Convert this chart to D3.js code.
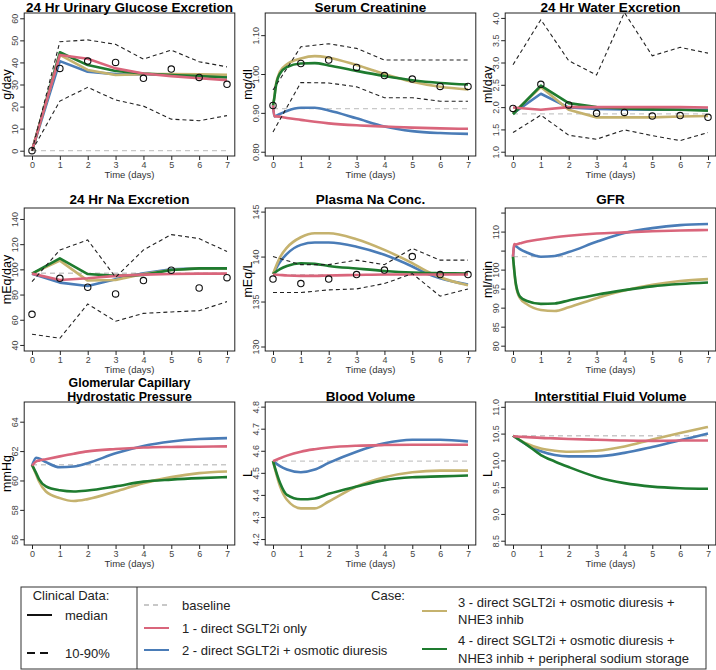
<!DOCTYPE html>
<html lang="en">
<head>
<meta charset="UTF-8">
<title>SGLT2i model cases vs clinical data</title>
<style>
  body { margin: 0; background: #fff; }
  svg text { font-family: "Liberation Sans", Arial, sans-serif; }
  .title { font-size: 13.5px; font-weight: bold; text-anchor: middle; }
  .title.two { font-size: 12.4px; }
  .tick text { font-size: 9px; fill: #444; }
  .ylab { font-size: 12.5px; text-anchor: middle; }
  .xlab { font-size: 9.5px; text-anchor: middle; fill: #333; }
  .leg { font-size: 13px; fill: #222; }
</style>
</head>
<body>
<svg width="716" height="670"></svg>
<script src="https://d3js.org/d3.v7.min.js"></script>
<script>
// ---- data ----
const days = [0, 1, 2, 3, 4, 5, 6, 7];
const caseNames = ["1 - direct SGLT2i only", "2 - direct SGLT2i + osmotic diuresis",
  "3 - direct SGLT2i + osmotic diuresis +", "4 - direct SGLT2i + osmotic diuresis +"];
const caseNames2 = ["", "", "NHE3 inhib", "NHE3 inhib + peripheral sodium storage"];
const caseColors = ["#d9657b", "#4a7cb7", "#c5b26e", "#1e7b2f"];

// 24 hr urinary glucose excretion (g/day), daily
const glucTicks = [0, 10, 20, 30, 40, 50, 60];
const glucMed = [0, 37.3, 40.6, 40.0, 32.8, 37.0, 33.2, 30.1];
const glucP10 = [0, 22.5, 28.7, 23.0, 20.2, 14.3, 13.6, 15.9];
const glucP90 = [0, 49.4, 50.2, 48.2, 41.5, 45.6, 40.3, 38.0];
const glucBase = 0;
const glucRed = [0, 43.4, 41.7, 37.3, 35.0, 33.8, 32.8, 32.0];
const glucBlue = [0, 40.6, 35.8, 34.7, 34.6, 34.4, 34.1, 33.8];
const glucGold = [0, 43.4, 36.6, 34.3, 34.7, 34.7, 34.6, 34.4];
const glucGreen = [0, 44.6, 38.8, 36.1, 35.0, 34.3, 33.8, 33.2];

// serum creatinine (mg/dl)
const creatTicks = [0.8, 0.9, 1.0, 1.1];
const creatMed = [0.919, 1.027, 1.036, 1.017, 0.996, 0.987, 0.968, 0.968];
const creatP10 = [0.851, 0.978, 0.977, 0.967, 0.939, 0.939, 0.930, 0.930];
const creatP90 = [0.959, 1.070, 1.078, 1.066, 1.036, 1.036, 1.036, 1.036];
const creatBase = 0.911;
const creatT = [0, 0.05, 0.1, 0.25, 0.5, 1, 1.5, 2, 3, 4, 5, 6, 7];
const creatRed = [0.919, 0.891, 0.891, 0.890, 0.887, 0.882, 0.877, 0.873, 0.868, 0.865, 0.862, 0.860, 0.859];
const creatBlue = [0.919, 0.891, 0.892, 0.897, 0.905, 0.913, 0.913, 0.906, 0.886, 0.865, 0.853, 0.848, 0.846];
const creatGold = [0.919, 0.940, 0.971, 1.006, 1.025, 1.040, 1.046, 1.042, 1.023, 1.000, 0.980, 0.967, 0.960];
const creatGreen = [0.919, 0.940, 0.967, 1.001, 1.018, 1.027, 1.028, 1.022, 1.008, 0.995, 0.984, 0.977, 0.973];

// 24 hr water excretion (ml/day), daily
const waterTicks = [1.0, 1.5, 2.0, 2.5, 3.0, 3.5, 4.0];
const waterMed = [1.97, 2.51, 2.05, 1.86, 1.88, 1.80, 1.81, 1.77];
const waterP10 = [1.43, 1.82, 1.37, 1.28, 1.49, 1.36, 1.25, 1.43];
const waterP90 = [2.95, 3.96, 3.04, 2.72, 4.12, 3.15, 3.34, 3.21];
const waterBase = 1.85;
const waterRed = [1.99, 1.94, 2.00, 2.00, 2.00, 2.00, 2.00, 1.99];
const waterBlue = [1.86, 2.30, 1.99, 1.96, 1.95, 1.94, 1.94, 1.94];
const waterGold = [1.86, 2.45, 1.94, 1.77, 1.77, 1.77, 1.79, 1.80];
const waterGreen = [1.84, 2.48, 2.09, 2.00, 1.97, 1.95, 1.94, 1.92];

// 24 hr Na excretion (mEq/day), daily
const naTicks = [40, 60, 80, 100, 120, 140];
const naMed = [64.3, 92.9, 85.8, 80.5, 91.1, 99.3, 85.2, 93.4];
const naP10 = [48.5, 45.3, 72.5, 58.8, 65.1, 66.2, 67.2, 74.4];
const naP90 = [90.3, 115.4, 123.3, 93.7, 115.4, 127.6, 124.4, 114.1];
const naBase = 96.9;
const naRed = [96.6, 91.6, 92.9, 94.8, 95.8, 96.3, 96.6, 96.6];
const naBlue = [96.6, 89.5, 86.8, 92.1, 96.9, 100.1, 100.8, 100.8];
const naGold = [96.6, 106.9, 91.1, 91.6, 96.3, 99.5, 100.8, 100.8];
const naGreen = [96.6, 108.8, 96.3, 94.8, 95.6, 99.5, 100.8, 100.8];

// plasma Na concentration (mEq/L)
const pnaTicks = [130, 135, 140, 145];
const pnaMed = [137.5, 137.0, 137.5, 138.0, 138.5, 140.0, 138.0, 138.0];
const pnaP10 = [136.0, 136.0, 136.3, 136.4, 137.0, 138.1, 135.6, 136.4];
const pnaP90 = [140.0, 139.1, 139.1, 139.6, 139.1, 140.9, 139.6, 139.6];
const pnaBase = 138.0;
const pnaT = [0, 0.25, 0.5, 1, 1.5, 2, 3, 4, 5, 5.5, 6, 7];
const pnaRed = [138.0, 137.95, 137.9, 137.85, 137.85, 137.9, 137.95, 138.0, 138.0, 138.0, 138.0, 138.0];
const pnaBlue = [138.05, 139.4, 140.3, 141.3, 141.56, 141.56, 141.1, 140.2, 138.9, 138.15, 137.6, 136.9];
const pnaGold = [138.05, 139.9, 141.0, 142.15, 142.6, 142.6, 141.93, 140.74, 139.26, 138.4, 137.7, 136.8];
const pnaGreen = [138.05, 138.6, 138.96, 139.26, 139.19, 138.96, 138.67, 138.4, 138.22, 138.17, 138.15, 138.11];

// GFR (ml/min)
const gfrTicks = [80, 85, 90, 95, 100, 105, 110, 115];
const gfrTickLabels = ["80", "85", "90", "95", "100", "", "110", ""];
const gfrBase = 103.4;
const gfrT = [0, 0.05, 0.1, 0.25, 0.5, 1, 1.5, 2, 3, 4, 5, 6, 7];
const gfrRed = [103.4, 106.7, 106.6, 106.9, 107.4, 108.0, 108.5, 108.9, 109.5, 109.8, 110.1, 110.3, 110.4];
const gfrBlue = [103.4, 106.5, 106.2, 105.4, 104.5, 103.4, 103.6, 104.6, 107.3, 109.6, 110.9, 111.7, 112.0];
const gfrGold = [103.4, 99.3, 96.0, 92.5, 90.9, 89.4, 89.1, 90.1, 92.5, 94.5, 96.0, 97.0, 97.5];
const gfrGreen = [103.4, 99.5, 96.4, 92.9, 91.75, 91.0, 91.1, 91.9, 93.4, 94.6, 95.6, 96.2, 96.6];

// glomerular capillary hydrostatic pressure (mmHg)
const gcpTicks = [56, 58, 60, 62, 64];
const gcpBase = 61.07;
const gcpT = [0, 0.15, 0.25, 0.5, 1, 1.5, 2, 3, 4, 5, 6, 7];
const gcpRed = [61.0, 61.3, 61.35, 61.45, 61.64, 61.82, 61.98, 62.14, 62.24, 62.28, 62.3, 62.32];
const gcpBlue = [61.0, 61.55, 61.5, 61.25, 60.9, 60.95, 61.18, 61.85, 62.35, 62.65, 62.82, 62.88];
const gcpGold = [61.07, 60.4, 59.95, 59.25, 58.8, 58.6, 58.73, 59.25, 59.82, 60.23, 60.5, 60.61];
const gcpGreen = [61.07, 60.5, 60.1, 59.6, 59.33, 59.25, 59.32, 59.6, 59.92, 60.06, 60.16, 60.23];

// blood volume (L)
const bvTicks = [4.2, 4.3, 4.4, 4.5, 4.6, 4.7, 4.8];
const bvBase = 4.553;
const bvT = [0, 0.25, 0.5, 1, 1.5, 2, 3, 4, 5, 6, 7];
const bvRed = [4.553, 4.566, 4.578, 4.596, 4.607, 4.615, 4.623, 4.626, 4.627, 4.627, 4.627];
const bvBlue = [4.553, 4.530, 4.515, 4.503, 4.515, 4.545, 4.596, 4.634, 4.650, 4.650, 4.642];
const bvGold = [4.553, 4.440, 4.378, 4.339, 4.339, 4.370, 4.438, 4.480, 4.503, 4.510, 4.510];
const bvGreen = [4.553, 4.455, 4.400, 4.380, 4.384, 4.405, 4.438, 4.467, 4.480, 4.484, 4.488];

// interstitial fluid volume (L)
const ifvTicks = [8.5, 9.0, 9.5, 10.0, 10.5, 11.0];
const ifvBase = 10.46;
const ifvT = [0, 0.5, 1, 1.5, 2, 3, 4, 5, 6, 7];
const ifvRed = [10.45, 10.435, 10.42, 10.41, 10.40, 10.385, 10.37, 10.365, 10.37, 10.37];
const ifvBlue = [10.46, 10.29, 10.17, 10.10, 10.075, 10.075, 10.14, 10.25, 10.375, 10.50];
const ifvGold = [10.46, 10.31, 10.22, 10.18, 10.16, 10.18, 10.26, 10.39, 10.51, 10.625];
const ifvGreen = [10.46, 10.29, 10.10, 9.98, 9.875, 9.69, 9.575, 9.51, 9.48, 9.47];

// ---- panel table ----
const panels = [
  { title: ["24 Hr Urinary Glucose Excretion"], ylab: "g/day", yDom: [-2.4, 62.4], ticks: glucTicks, fmt: d3.format("d"),
    t: days, cases: [glucRed, glucBlue, glucGold, glucGreen], base: glucBase, clin: [glucMed, glucP10, glucP90], smooth: false },
  { title: ["Serum Creatinine"], ylab: "mg/dl", yDom: [0.789, 1.157], ticks: creatTicks, fmt: d3.format(".2f"),
    t: creatT, cases: [creatRed, creatBlue, creatGold, creatGreen], base: creatBase, clin: [creatMed, creatP10, creatP90], smooth: true },
  { title: ["24 Hr Water Excretion"], ylab: "ml/day", yDom: [0.904, 4.11], ticks: waterTicks, fmt: d3.format(".1f"),
    t: days, cases: [waterRed, waterBlue, waterGold, waterGreen], base: waterBase, clin: [waterMed, waterP10, waterP90], smooth: false },
  { title: ["24 Hr Na Excretion"], ylab: "mEq/day", yDom: [35.2, 148.7], ticks: naTicks, fmt: d3.format("d"),
    t: days, cases: [naRed, naBlue, naGold, naGreen], base: naBase, clin: [naMed, naP10, naP90], smooth: false },
  { title: ["Plasma Na Conc."], ylab: "mEq/L", yDom: [129.5, 145.4], ticks: pnaTicks, fmt: d3.format("d"),
    t: pnaT, cases: [pnaRed, pnaBlue, pnaGold, pnaGreen], base: pnaBase, clin: [pnaMed, pnaP10, pnaP90], smooth: true },
  { title: ["GFR"], ylab: "ml/min", yDom: [78.6, 116.2], ticks: gfrTicks, fmt: (d, i) => gfrTickLabels[i],
    t: gfrT, cases: [gfrRed, gfrBlue, gfrGold, gfrGreen], base: gfrBase, clin: null, smooth: true },
  { title: ["Glomerular Capillary", "Hydrostatic Pressure"], ylab: "mmHg", yDom: [55.61, 65.34], ticks: gcpTicks, fmt: d3.format("d"),
    t: gcpT, cases: [gcpRed, gcpBlue, gcpGold, gcpGreen], base: gcpBase, clin: null, smooth: true },
  { title: ["Blood Volume"], ylab: "L", yDom: [4.173, 4.821], ticks: bvTicks, fmt: d3.format(".1f"),
    t: bvT, cases: [bvRed, bvBlue, bvGold, bvGreen], base: bvBase, clin: null, smooth: true },
  { title: ["Interstitial Fluid Volume"], ylab: "L", yDom: [8.42, 11.09], ticks: ifvTicks, fmt: d3.format(".1f"),
    t: ifvT, cases: [ifvRed, ifvBlue, ifvGold, ifvGreen], base: ifvBase, clin: null, smooth: true }
];

// ---- layout ----
const svg = d3.select("svg");
const colX0 = [32, 273, 513];   // pixel of day 0 in each column
const rowTop = [13, 208, 402];  // top of plot box in each row
const titleGap = [1.5, 4, 1.5]; // title baseline above the box
const spanW = 195, boxH = 143;
const drawOrder = [1, 2, 3, 0];  // blue, gold, green, red on top

panels.forEach((p, i) => {
  const row = Math.floor(i / 3);
  const x0 = colX0[i % 3], top = rowTop[row];
  const x = d3.scaleLinear().domain([0, 7]).range([x0, x0 + spanW]);
  const y = d3.scaleLinear().domain(p.yDom).range([top + boxH, top]);
  const left = x(-0.28), right = x(7.28), bottom = top + boxH;
  const g = svg.append("g");

  const clipId = "clip" + i;
  g.append("clipPath").attr("id", clipId)
    .append("rect").attr("x", left).attr("y", top).attr("width", right - left).attr("height", boxH);
  const plot = g.append("g").attr("clip-path", `url(#${clipId})`);

  // baseline
  plot.append("line")
    .attr("x1", x(0)).attr("x2", x(7)).attr("y1", y(p.base)).attr("y2", y(p.base))
    .attr("stroke", "#c8c8c8").attr("stroke-width", 1.3).attr("stroke-dasharray", "5,4");

  // model cases
  const line = d3.line()
    .x((d, k) => x(p.t[k]))
    .y(d => y(d))
    .curve(p.smooth ? d3.curveMonotoneX : d3.curveLinear);
  drawOrder.forEach(c => {
    plot.append("path")
      .attr("d", line(p.cases[c]))
      .attr("fill", "none")
      .attr("stroke", caseColors[c])
      .attr("stroke-width", 2.6)
      .attr("stroke-linejoin", "round");
  });

  // clinical data
  if (p.clin) {
    const dline = d3.line().x((d, k) => x(days[k])).y(d => y(d));
    [p.clin[1], p.clin[2]].forEach(arr => {
      plot.append("path")
        .attr("d", dline(arr))
        .attr("fill", "none")
        .attr("stroke", "#222")
        .attr("stroke-width", 1.1)
        .attr("stroke-dasharray", "4,3");
    });
    plot.selectAll("circle.med")
      .data(p.clin[0])
      .join("circle")
      .attr("class", "med")
      .attr("cx", (d, k) => x(days[k]))
      .attr("cy", d => y(d))
      .attr("r", 3.2)
      .attr("fill", "none")
      .attr("stroke", "#111")
      .attr("stroke-width", 1.1);
  }

  // box
  g.append("rect")
    .attr("x", left).attr("y", top).attr("width", right - left).attr("height", boxH)
    .attr("fill", "none").attr("stroke", "#222").attr("stroke-width", 1);

  // axes
  const xa = g.append("g")
    .attr("transform", `translate(0,${bottom})`)
    .call(d3.axisBottom(x).tickValues(days).tickSize(4).tickPadding(1.5).tickFormat(d3.format("d")));
  xa.select(".domain").remove();
  xa.selectAll(".tick line").attr("stroke", "#222");

  const ya = g.append("g")
    .attr("transform", `translate(${left},0)`)
    .call(d3.axisLeft(y).tickValues(p.ticks).tickSize(4).tickFormat(p.fmt));
  ya.select(".domain").remove();
  ya.selectAll(".tick line").attr("stroke", "#222");
  ya.selectAll(".tick text")
    .attr("transform", "rotate(-90)")
    .attr("x", 0).attr("y", -6).attr("dy", 0)
    .attr("text-anchor", "middle");

  // labels
  const nT = p.title.length;
  p.title.forEach((t, k) => {
    g.append("text").attr("class", nT > 1 ? "title two" : "title")
      .attr("x", (left + right) / 2)
      .attr("y", nT > 1 ? top - 1 - (nT - 1 - k) * 13.8 : top - titleGap[row])
      .text(t);
  });
  g.append("text").attr("class", "xlab")
    .attr("x", x(3.5)).attr("y", bottom + 22)
    .text("Time (days)");
  g.append("text").attr("class", "ylab")
    .attr("transform", `translate(${left - 13.5},${top + boxH / 2}) rotate(-90)`)
    .text(p.ylab);
});

// ---- legend ----
const leg = svg.append("g");
leg.append("rect").attr("x", 21).attr("y", 587).attr("width", 685).attr("height", 82)
  .attr("fill", "none").attr("stroke", "#333").attr("stroke-width", 1);
leg.append("line").attr("x1", 137).attr("x2", 137).attr("y1", 587).attr("y2", 669)
  .attr("stroke", "#333").attr("stroke-width", 1);

leg.append("text").attr("class", "leg").attr("x", 71).attr("y", 599.5)
  .attr("text-anchor", "middle").text("Clinical Data:");
[["median", 615, null], ["10-90%", 653, "8,5"]].forEach(([lab, yy, dash]) => {
  leg.append("line").attr("x1", 27).attr("x2", 52).attr("y1", yy).attr("y2", yy)
    .attr("stroke", "#111").attr("stroke-width", 2).attr("stroke-dasharray", dash);
  leg.append("text").attr("class", "leg").attr("x", 65).attr("y", yy + 4.5).text(lab);
});

leg.append("text").attr("class", "leg").attr("x", 388).attr("y", 599.5)
  .attr("text-anchor", "middle").text("Case:");

leg.append("line").attr("x1", 144).attr("x2", 168).attr("y1", 605).attr("y2", 605)
  .attr("stroke", "#c8c8c8").attr("stroke-width", 2).attr("stroke-dasharray", "5,4");
leg.append("text").attr("class", "leg").attr("x", 182).attr("y", 609.5).text("baseline");

const legPos = [
  { lx: 144, ly: 628, tx: 182, ty: [632.5] },
  { lx: 144, ly: 650, tx: 182, ty: [654.5] },
  { lx: 422, ly: 611, tx: 458, ty: [606.5, 623.5] },
  { lx: 422, ly: 649, tx: 458, ty: [644.5, 662.5] }
];
legPos.forEach((lp, c) => {
  leg.append("line").attr("x1", lp.lx).attr("x2", lp.lx + 25).attr("y1", lp.ly).attr("y2", lp.ly)
    .attr("stroke", caseColors[c]).attr("stroke-width", 2);
  [caseNames[c], caseNames2[c]].forEach((t, k) => {
    if (t) leg.append("text").attr("class", "leg").attr("x", lp.tx).attr("y", lp.ty[k]).text(t);
  });
});
</script>
</body>
</html>
